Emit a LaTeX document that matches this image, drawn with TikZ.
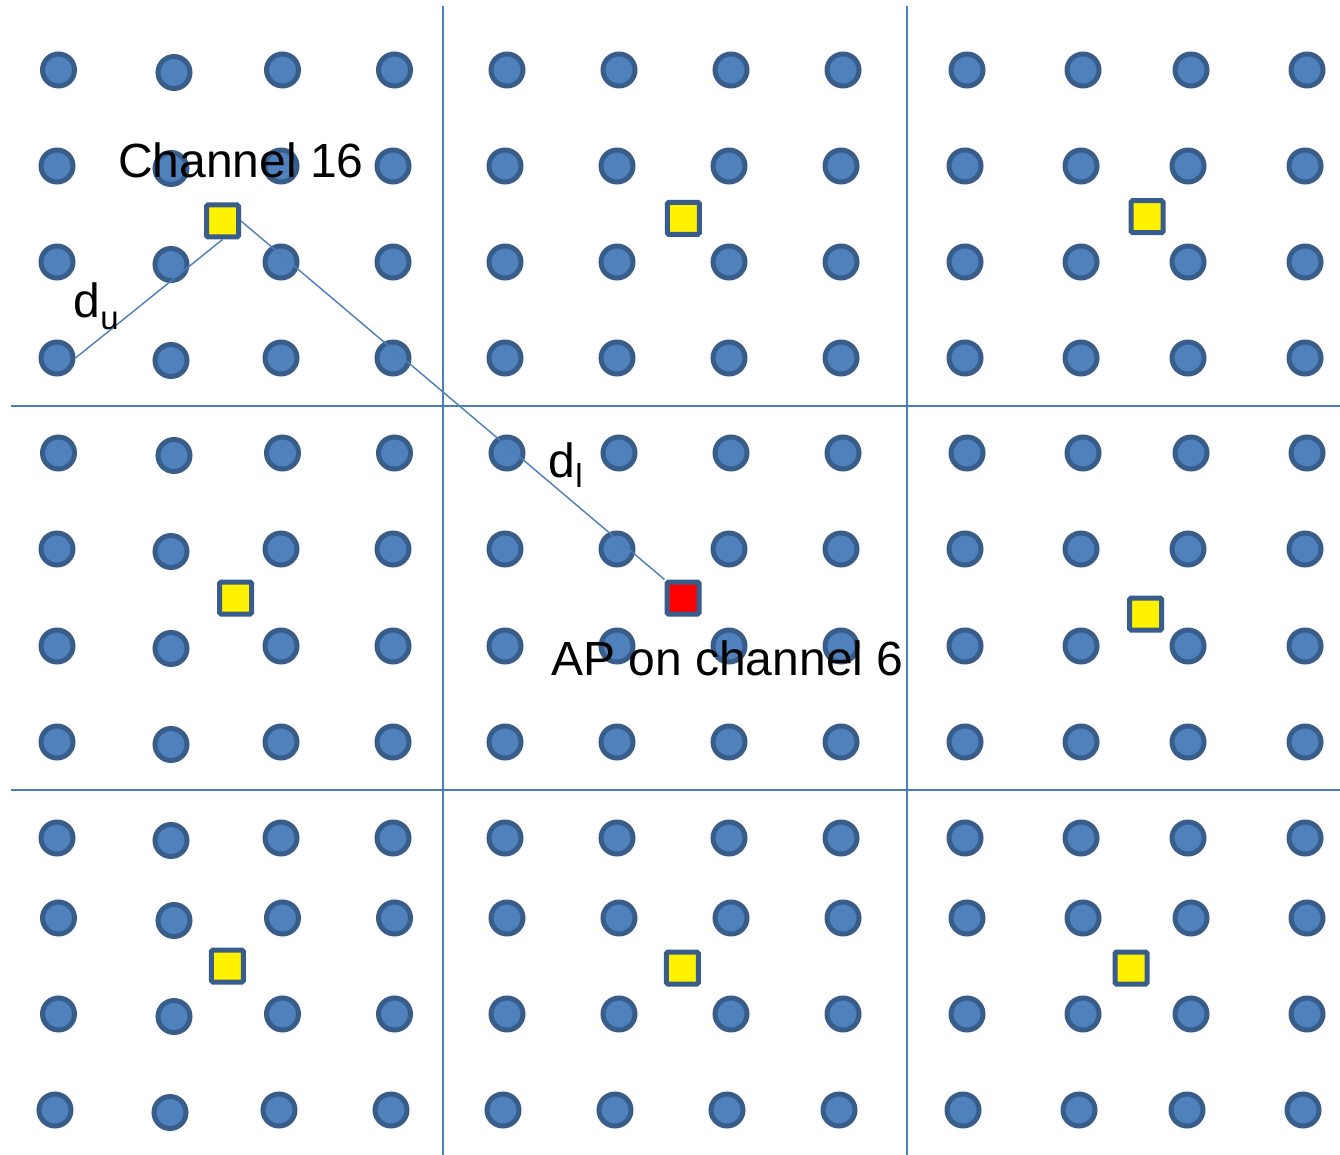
\documentclass[tikz,border=0pt]{standalone}
\usepackage{fontspec}
\setmainfont{Liberation Sans}
\definecolor{dotfill}{HTML}{4F81BD}
\definecolor{dotedge}{HTML}{385D8A}
\definecolor{gridblue}{HTML}{4A7EBB}
\newcommand\mydotrow[3]{%
  \foreach \xx [count=\k] in #3 {%
    \pgfmathsetmacro\yy{#2+(\k==2)*2.5}%
    \node[dot] (c-#1-\k) at (\xx,\yy) {};
  }}
\begin{document}
\begin{tikzpicture}[x=1pt,y=-1pt,
  dot/.style={circle, draw=dotedge, fill=dotfill, line width=5pt, minimum size=32pt, inner sep=0pt},
  apbox/.style={rectangle, draw=dotedge, line width=5pt, minimum size=32pt, inner sep=0pt, rounded corners=1.5pt},
  gridline/.style={draw=gridblue, line width=2pt},
  link/.style={draw=gridblue, line width=1.4pt},
  lbl/.style={inner sep=0pt, font=\fontsize{48}{56}\selectfont, text=black},
]
\useasboundingbox (0,0) rectangle (1340,1155);
\fill[white] (0,0) rectangle (1340,1155);
\def\rowA{58.5,174,282.5,394.5,507,619,731,843,967,1083,1191,1307}
\def\rowB{57,171,281,393,505,617,729,841,965,1081,1188,1305}
\def\rowC{55,170,279,391,503,615,727,839,963,1079,1187,1303}
% grid lines
\coordinate (v1t) at (443,6);   \coordinate (v1b) at (443,1155);
\coordinate (v2t) at (907,6);   \coordinate (v2b) at (907,1155);
\coordinate (h1l) at (11,406);  \coordinate (h1r) at (1340,406);
\coordinate (h2l) at (11,790);  \coordinate (h2r) at (1340,790);
\draw[gridline] (v1t) -- (v1b);
\draw[gridline] (v2t) -- (v2b);
\draw[gridline] (h1l) -- (h1r);
\draw[gridline] (h2l) -- (h2r);
% dots
\mydotrow{1}{70}{\rowA}
\mydotrow{2}{166}{\rowB}
\mydotrow{3}{262}{\rowB}
\mydotrow{4}{358}{\rowB}
\mydotrow{5}{453}{\rowA}
\mydotrow{6}{549}{\rowB}
\mydotrow{7}{646}{\rowB}
\mydotrow{8}{742}{\rowB}
\mydotrow{9}{838}{\rowB}
\mydotrow{10}{918}{\rowA}
\mydotrow{11}{1014}{\rowA}
\mydotrow{12}{1110}{\rowC}
% access points
\node[apbox, fill=yellow] (s1) at (222.5,221) {};
\node[apbox, fill=yellow] (s2) at (683.3,218.3) {};
\node[apbox, fill=yellow] (s3) at (1147,216.7) {};
\node[apbox, fill=yellow] (s4) at (235.7,598) {};
\node[apbox, fill=red]    (ap) at (683,598) {};
\node[apbox, fill=yellow] (s6) at (1145.7,614) {};
\node[apbox, fill=yellow] (s7) at (227.3,966) {};
\node[apbox, fill=yellow] (s8) at (682.3,968) {};
\node[apbox, fill=yellow] (s9) at (1131,968) {};
% distance lines
\draw[link] (s1.south) -- (c-4-1.east);
\draw[link] (s1.east) -- (ap.north west);
% labels
\node[lbl, anchor=base west] (ch16) at (118,178) {Channel 16};
\node[lbl, anchor=base west] (apl) at (551,675) {AP on channel 6};
\node[lbl, anchor=base west] (du) at (73.5,318) {d\raisebox{-12pt}{\fontsize{33}{33}\selectfont u}};
\node[lbl, anchor=base west] (dl) at (548.5,477) {d\raisebox{-10pt}{\fontsize{33}{33}\selectfont l}};
\end{tikzpicture}
\end{document}
